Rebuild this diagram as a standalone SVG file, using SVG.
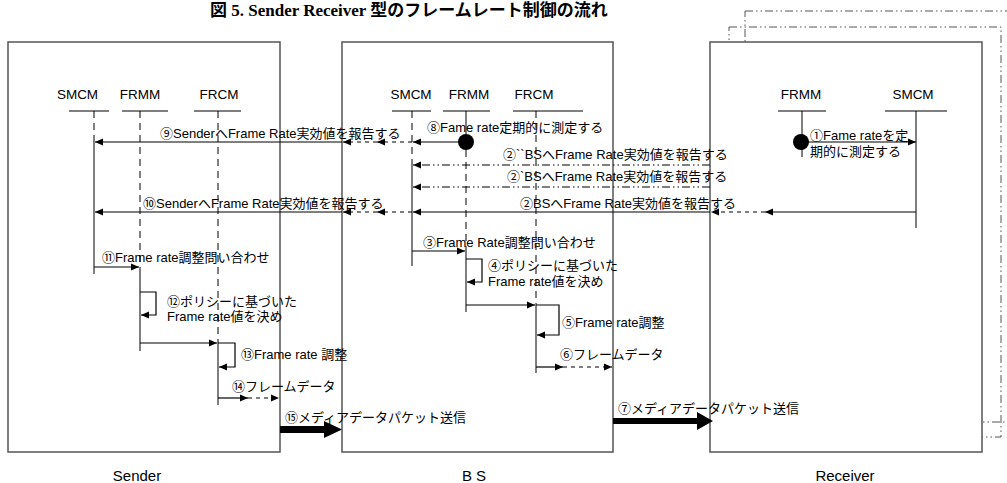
<svg xmlns="http://www.w3.org/2000/svg" width="1007" height="483" viewBox="0 0 1007 483">
<defs>
<marker id="ah" markerWidth="9" markerHeight="8" refX="8" refY="4" orient="auto" markerUnits="userSpaceOnUse"><path d="M0,0.5 L8,4 L0,7.5 z" fill="#000"/></marker>
</defs>
<style>
.box{fill:#fff;stroke:#555;stroke-width:1.5}
.ghost{fill:none;stroke:#555;stroke-width:1;stroke-dasharray:8 3 1.5 3 1.5 3}
.ll{stroke:#000;stroke-width:1;fill:none}
.lld{stroke:#000;stroke-width:1;fill:none;stroke-dasharray:7 5}
.hl{stroke:#000;stroke-width:1.2}
.m{stroke:#000;stroke-width:1.2;fill:none}
.md{stroke:#000;stroke-width:1.2;fill:none;stroke-dasharray:4 4}
.mdd{stroke:#000;stroke-width:1.2;fill:none;stroke-dasharray:8 3 1.5 3 1.5 3}
text{font-family:"Liberation Sans","Noto Sans CJK JP",sans-serif;fill:#000}
.lbl{font-size:13px}
.hd{font-size:13.5px;text-anchor:middle}
.nm{font-size:15px;text-anchor:middle}
.title{font-family:"Liberation Serif","Noto Sans CJK JP",serif;font-size:17px;font-weight:bold}
</style>
<rect width="1007" height="483" fill="#fff"/>
<text class="title" x="210" y="16">図 5. Sender Receiver 型のフレームレート制御の流れ</text>

<g id="other-receivers">
<rect class="ghost" x="745" y="11" width="272" height="411"/>
<rect class="ghost" x="729" y="27" width="272" height="410"/>
</g>

<g id="sender">
<rect class="box" x="8" y="42" width="272" height="410"/>
<text class="nm" x="137" y="481">Sender</text>
<text class="hd" x="77.5" y="99">SMCM</text>
<text class="hd" x="140" y="99">FRMM</text>
<text class="hd" x="219" y="99">FRCM</text>
<line class="hl" x1="69" y1="111" x2="109" y2="111"/>
<line class="hl" x1="122" y1="111" x2="168" y2="111"/>
<line class="hl" x1="194" y1="111" x2="241" y2="111"/>
<line class="lld" x1="94" y1="111" x2="94" y2="142"/>
<line class="ll" x1="94" y1="142" x2="94" y2="274"/>
<line class="lld" x1="140" y1="111" x2="140" y2="267"/>
<line class="ll" x1="140" y1="267" x2="140" y2="351"/>
<line class="lld" x1="218" y1="111" x2="218" y2="343"/>
<line class="ll" x1="218" y1="343" x2="218" y2="405"/>
</g>

<g id="bs">
<rect class="box" x="342" y="42" width="271" height="410"/>
<text class="nm" x="474" y="481">B S</text>
<text class="hd" x="411" y="99">SMCM</text>
<text class="hd" x="469" y="99">FRMM</text>
<text class="hd" x="534" y="99">FRCM</text>
<line class="hl" x1="392" y1="111" x2="431" y2="111"/>
<line class="hl" x1="443" y1="111" x2="490" y2="111"/>
<line class="hl" x1="513" y1="111" x2="583" y2="111"/>
<line class="lld" x1="412" y1="111" x2="412" y2="165"/>
<line class="ll" x1="412" y1="165" x2="412" y2="266"/>
<line class="ll" x1="466" y1="111" x2="466" y2="135"/>
<line class="lld" x1="466" y1="150" x2="466" y2="251"/>
<line class="ll" x1="466" y1="251" x2="466" y2="312"/>
<circle cx="466" cy="142" r="8" fill="#000"/>
<line class="lld" x1="536" y1="111" x2="536" y2="305"/>
<line class="ll" x1="536" y1="305" x2="536" y2="373"/>
</g>

<g id="receiver">
<rect class="box" x="710" y="42" width="272" height="410"/>
<text class="nm" x="845" y="481">Receiver</text>
<text class="hd" x="801" y="99">FRMM</text>
<text class="hd" x="913" y="99">SMCM</text>
<line class="hl" x1="778" y1="111" x2="826" y2="111"/>
<line class="hl" x1="885" y1="111" x2="947" y2="111"/>
<line class="ll" x1="802" y1="111" x2="802" y2="157"/>
<circle cx="801" cy="142" r="8" fill="#000"/>
<line class="ll" x1="916" y1="111" x2="916" y2="228"/>
</g>

<g id="connectors">
<line class="m" x1="802" y1="142" x2="916" y2="142" marker-end="url(#ah)"/>
<text class="lbl" x="810" y="139.5">①Fame rateを定</text>
<text class="lbl" x="810" y="155.5">期的に測定する</text>
<text class="lbl" x="427" y="132">⑧Fame rate定期的に測定する</text>
<line class="m" x1="466" y1="142" x2="413" y2="142" marker-end="url(#ah)"/>
<line class="md" x1="412" y1="142" x2="377" y2="142" marker-end="url(#ah)"/>
<line class="md" x1="377" y1="142" x2="343" y2="142" marker-end="url(#ah)"/>
<line class="m" x1="342" y1="142" x2="95" y2="142" marker-end="url(#ah)"/>
<text class="lbl" x="160" y="137.5">⑨SenderへFrame Rate実効値を報告する</text>
<line class="mdd" x1="710" y1="165" x2="413" y2="165" marker-end="url(#ah)"/>
<text class="lbl" x="503" y="158.5">②``BSへFrame Rate実効値を報告する</text>
<line class="mdd" x1="710" y1="187" x2="413" y2="187" marker-end="url(#ah)"/>
<text class="lbl" x="507" y="180.5">②`BSへFrame Rate実効値を報告する</text>
<line class="m" x1="916" y1="212" x2="765" y2="212" marker-end="url(#ah)"/>
<line class="md" x1="765" y1="212" x2="711" y2="212" marker-end="url(#ah)"/>
<line class="m" x1="710" y1="212" x2="413" y2="212" marker-end="url(#ah)"/>
<text class="lbl" x="520" y="207.5">②BSへFrame Rate実効値を報告する</text>
<line class="md" x1="412" y1="212" x2="377" y2="212" marker-end="url(#ah)"/>
<line class="md" x1="377" y1="212" x2="343" y2="212" marker-end="url(#ah)"/>
<line class="m" x1="342" y1="212" x2="95" y2="212" marker-end="url(#ah)"/>
<text class="lbl" x="143" y="207.5">⑩SenderへFrame Rate実効値を報告する</text>
<line class="m" x1="412" y1="251" x2="465" y2="251" marker-end="url(#ah)"/>
<text class="lbl" x="423" y="246.5">③Frame Rate調整問い合わせ</text>
<path class="m" d="M466,259 H482 V282 H467" marker-end="url(#ah)"/>
<text class="lbl" x="488" y="269.5">④ポリシーに基づいた</text>
<text class="lbl" x="488" y="285.5">Frame rate値を決め</text>
<line class="m" x1="466" y1="305" x2="535" y2="305" marker-end="url(#ah)"/>
<path class="m" d="M536,305 H559 V335 H537" marker-end="url(#ah)"/>
<text class="lbl" x="562" y="326.5">⑤Frame rate調整</text>
<line class="m" x1="536" y1="367" x2="563" y2="367" marker-end="url(#ah)"/>
<line class="md" x1="563" y1="367" x2="612" y2="367" marker-end="url(#ah)"/>
<text class="lbl" x="560" y="358.5">⑥フレームデータ</text>
<polygon points="613,418 697,418 697,412 713,421 697,430 697,424 613,424" fill="#000"/>
<text class="lbl" x="618" y="412.5">⑦メディアデータパケット送信</text>
<line class="m" x1="94" y1="267" x2="139" y2="267" marker-end="url(#ah)"/>
<text class="lbl" x="102" y="261.5">⑪Frame rate調整問い合わせ</text>
<path class="m" d="M140,292 H156 V315 H141" marker-end="url(#ah)"/>
<text class="lbl" x="167" y="305.5">⑫ポリシーに基づいた</text>
<text class="lbl" x="167" y="320.5">Frame rate値を決め</text>
<line class="m" x1="140" y1="343" x2="217" y2="343" marker-end="url(#ah)"/>
<path class="m" d="M218,343 H235 V367 H219" marker-end="url(#ah)"/>
<text class="lbl" x="241" y="358.5">⑬Frame rate 調整</text>
<line class="m" x1="218" y1="398" x2="248" y2="398" marker-end="url(#ah)"/>
<line class="md" x1="248" y1="398" x2="279" y2="398" marker-end="url(#ah)"/>
<text class="lbl" x="232" y="390.5">⑭フレームデータ</text>
<polygon points="280,426 324,426 324,421 342,429.5 324,438 324,433 280,433" fill="#000"/>
<text class="lbl" x="285" y="421.5">⑮メディアデータパケット送信</text>
</g>
</svg>
